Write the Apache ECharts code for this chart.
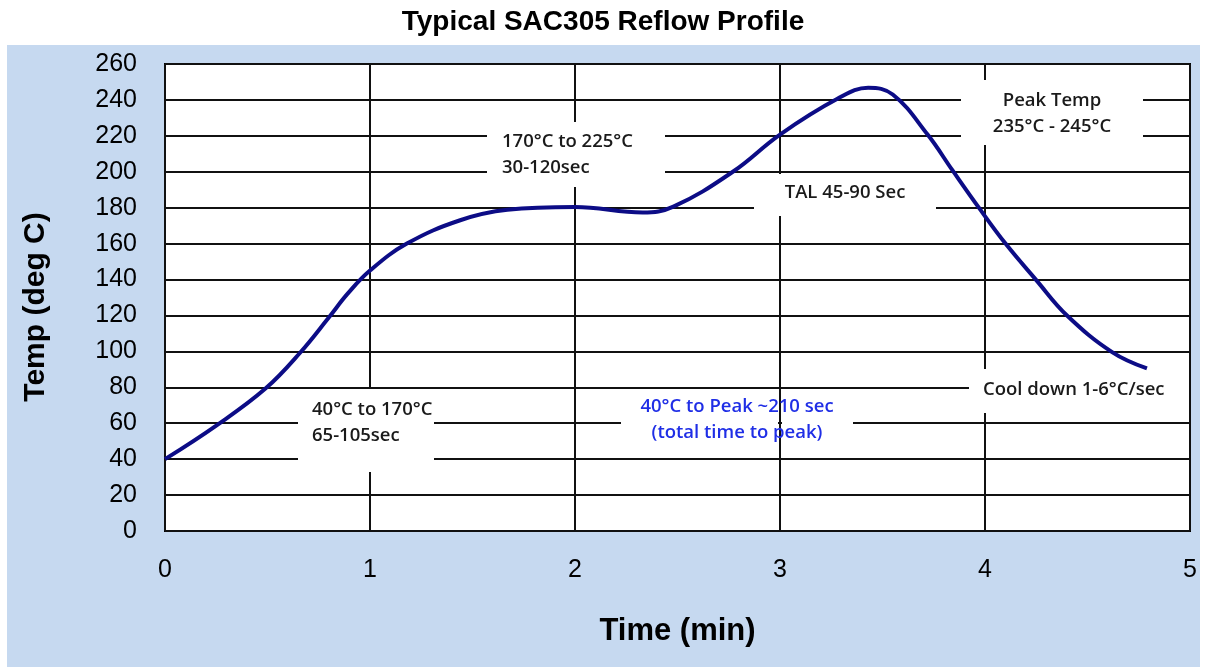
<!DOCTYPE html>
<html>
<head>
<meta charset="utf-8">
<title>Typical SAC305 Reflow Profile</title>
<script src="https://cdn.jsdelivr.net/npm/echarts@6/dist/echarts.min.js"></script>
<style>
  html, body { margin: 0; padding: 0; background: #fff; }
  #chart { width: 1206px; height: 667px; }
</style>
</head>
<body>
<div id="chart"></div>
<script>
// profile: time in minutes, temperature in deg C
const timeMin = [0, 0.25, 0.49, 0.66, 0.8, 0.89, 1.0, 1.18, 1.44, 1.67, 2.0, 2.33, 2.48, 2.77, 3.0, 3.28, 3.43, 3.55, 3.72, 3.84, 3.97, 4.1, 4.25, 4.4, 4.62, 4.79]
const tempC = [40, 58.7, 79.3, 99.4, 119, 132, 145, 160, 173, 178.8, 180.4, 177.3, 180.6, 200, 220.7, 240.6, 246.8, 243, 220.7, 201, 180, 160, 139.7, 120, 99.6, 90.5]

const profile = timeMin.map((t, i) => [t, tempC[i]])

const labelFont = 'Liberation Sans, Arial, sans-serif'
const noteFont = 'Open Sans, Noto Sans, sans-serif'

// white label box that hides the grid lines under it
function noteBox(x, y, w, h) {
  return {type: 'rect', z: 1, shape: {x, y, width: w, height: h}, style: {fill: '#fff'}, silent: true}
}

function note(text, x, y, align, color) {
  return {
    type: 'text', z: 3, x, y,
    style: {
      text, fill: color || '#1a1a1a', font: '600 18.5px ' + noteFont,
      align, verticalAlign: 'middle', lineHeight: 26
    },
    silent: true
  }
}

const chart = echarts.init(document.getElementById('chart'))
chart.setOption({
  backgroundColor: '#fff',
  animation: false,
  title: {
    text: 'Typical SAC305 Reflow Profile',
    left: 'center',
    top: 3,
    textStyle: {fontFamily: labelFont, fontSize: 28, fontWeight: 'bold', color: '#000'}
  },
  grid: {
    left: 165, right: 16, top: 64, bottom: 136,
    show: true, backgroundColor: '#fff', borderColor: '#000', borderWidth: 2
  },
  xAxis: {
    type: 'value', min: 0, max: 5, interval: 1,
    name: 'Time (min)', nameLocation: 'middle', nameGap: 85,
    nameTextStyle: {fontFamily: labelFont, fontSize: 31, fontWeight: 'bold', color: '#000'},
    axisLine: {show: false}, axisTick: {show: false},
    axisLabel: {fontFamily: labelFont, fontSize: 25, color: '#000', margin: 27},
    splitLine: {lineStyle: {color: '#111', width: 2}}
  },
  yAxis: {
    type: 'value', min: 0, max: 260, interval: 20,
    axisLine: {show: false}, axisTick: {show: false},
    axisLabel: {fontFamily: labelFont, fontSize: 25, color: '#000', margin: 28},
    splitLine: {lineStyle: {color: '#111', width: 2}}
  },
  graphic: [
    {type: 'rect', z: -100, shape: {x: 7, y: 45, width: 1193, height: 622}, style: {fill: '#c6d9f0'}, silent: true},
    {
      type: 'text', z: 3, x: 36, y: 307, rotation: Math.PI / 2,
      style: {text: 'Temp (deg C)', font: 'bold 30px ' + labelFont, fill: '#000', align: 'center', verticalAlign: 'middle'}
    },
    noteBox(487, 122, 178, 65),
    note('170°C to 225°C\n30-120sec', 502, 155, 'left'),
    noteBox(961, 80, 182, 65),
    note('Peak Temp\n235°C - 245°C', 1052, 114, 'center'),
    noteBox(754, 174, 182, 42),
    note('TAL 45-90 Sec', 845, 193, 'center'),
    noteBox(298, 389, 136, 83),
    note('40°C to 170°C\n65-105sec', 312, 423, 'left'),
    noteBox(621, 419, 157, 8),
    noteBox(782, 419, 71, 8),
    note('40°C to Peak ~210 sec\n(total time to peak)', 737, 420, 'center', '#1f2ee6'),
    noteBox(969, 369, 220, 44),
    note('Cool down 1-6°C/sec', 983, 390, 'left')
  ],
  series: [{
    type: 'line',
    data: profile,
    smooth: 0.4,
    showSymbol: false,
    lineStyle: {color: '#0c0c86', width: 4},
    z: 2
  }]
})
</script>
</body>
</html>
